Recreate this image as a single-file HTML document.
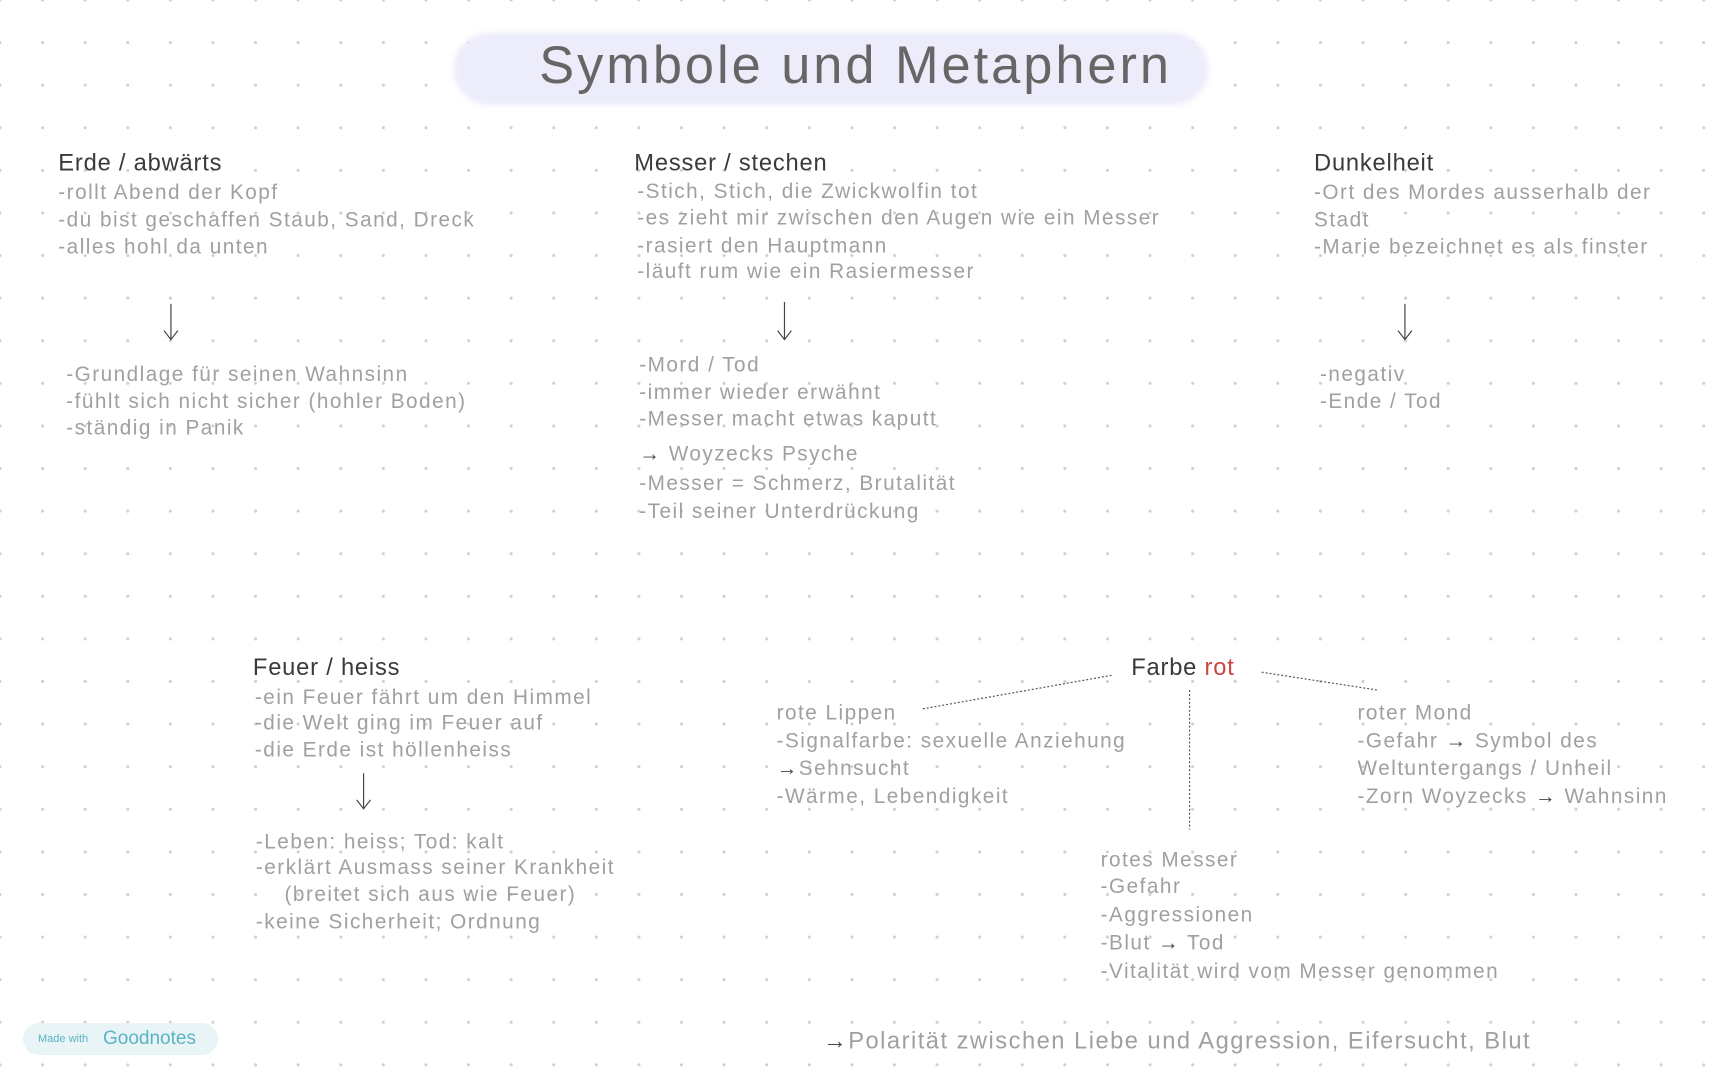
<!DOCTYPE html>
<html><head><meta charset="utf-8"><style>
html,body{margin:0;padding:0}
body{width:1728px;height:1080px;position:relative;overflow:hidden;background:#fff;
background-image:radial-gradient(circle,#cfcfcf 1.3px,transparent 1.8px);background-size:42.6px 42.6px;background-position:-21.3px -21.3px;
font-family:"Liberation Sans",sans-serif;}
#w{position:absolute;left:0;top:0;width:1728px;height:1080px;transform:scale(0.988,0.99);transform-origin:0 0}
.t{position:absolute;white-space:nowrap;font-size:21px;line-height:28px;color:#a0a0a0;letter-spacing:1.5px;font-weight:300}
.h{color:#3a3a3a;font-size:24px;letter-spacing:0.8px}
.k{color:#444}
</style></head><body><div id="w">
<div style="position:absolute;left:459px;top:33px;width:764px;height:73px;background:#ececfb;border-radius:40px;filter:blur(3px)"></div>
<div class="t" style="left:484px;width:764px;text-align:center;top:32px;line-height:70px;font-size:53px;color:#666;letter-spacing:3px">Symbole und Metaphern</div>

<div class="t h" style="left:59px;top:151px">Erde / abwärts</div>
<div class="t" style="left:59px;top:181px">-rollt Abend der Kopf</div>
<div class="t" style="left:59px;top:209px">-du bist geschaffen Staub, Sand, Dreck</div>
<div class="t" style="left:59px;top:236px">-alles hohl da unten</div>
<div class="t" style="left:67px;top:365px">-Grundlage für seinen Wahnsinn</div>
<div class="t" style="left:67px;top:392px">-fühlt sich nicht sicher (hohler Boden)</div>
<div class="t" style="left:67px;top:419px">-ständig in Panik</div>

<div class="t h" style="left:642px;top:151px">Messer / stechen</div>
<div class="t" style="left:645px;top:180px">-Stich, Stich, die Zwickwolfin tot</div>
<div class="t" style="left:645px;top:207px">-es zieht mir zwischen den Augen wie ein Messer</div>
<div class="t" style="left:645px;top:235px">-rasiert den Hauptmann</div>
<div class="t" style="left:645px;top:261px">-läuft rum wie ein Rasiermesser</div>
<div class="t" style="left:647px;top:355px">-Mord / Tod</div>
<div class="t" style="left:647px;top:383px">-immer wieder erwähnt</div>
<div class="t" style="left:647px;top:410px">-Messer macht etwas kaputt</div>
<div class="t" style="left:647px;top:445px"><span class="k">→</span> Woyzecks Psyche</div>
<div class="t" style="left:647px;top:475px">-Messer = Schmerz, Brutalität</div>
<div class="t" style="left:647px;top:503px">-Teil seiner Unterdrückung</div>

<div class="t h" style="left:1330px;top:151px">Dunkelheit</div>
<div class="t" style="left:1330px;top:181px">-Ort des Mordes ausserhalb der</div>
<div class="t" style="left:1330px;top:209px">Stadt</div>
<div class="t" style="left:1330px;top:236px">-Marie bezeichnet es als finster</div>
<div class="t" style="left:1336px;top:365px">-negativ</div>
<div class="t" style="left:1336px;top:392px">-Ende / Tod</div>

<div class="t h" style="left:256px;top:661px">Feuer / heiss</div>
<div class="t" style="left:258px;top:691px">-ein Feuer fährt um den Himmel</div>
<div class="t" style="left:258px;top:717px">-die Welt ging im Feuer auf</div>
<div class="t" style="left:258px;top:744px">-die Erde ist höllenheiss</div>
<div class="t" style="left:259px;top:837px">-Leben: heiss; Tod: kalt</div>
<div class="t" style="left:259px;top:863px">-erklärt Ausmass seiner Krankheit</div>
<div class="t" style="left:288px;top:890px">(breitet sich aus wie Feuer)</div>
<div class="t" style="left:259px;top:918px">-keine Sicherheit; Ordnung</div>

<div class="t h" style="left:1145px;top:661px">Farbe <span style="color:#c9453f">rot</span></div>
<div class="t" style="left:786px;top:707px">rote Lippen</div>
<div class="t" style="left:786px;top:735px">-Signalfarbe: sexuelle Anziehung</div>
<div class="t" style="left:786px;top:763px"><span class="k">→</span>Sehnsucht</div>
<div class="t" style="left:786px;top:791px">-Wärme, Lebendigkeit</div>
<div class="t" style="left:1374px;top:707px">roter Mond</div>
<div class="t" style="left:1374px;top:735px">-Gefahr <span class="k">→</span> Symbol des</div>
<div class="t" style="left:1374px;top:763px">Weltuntergangs / Unheil</div>
<div class="t" style="left:1374px;top:791px">-Zorn Woyzecks <span class="k">→</span> Wahnsinn</div>
<div class="t" style="left:1114px;top:855px">rotes Messer</div>
<div class="t" style="left:1114px;top:882px">-Gefahr</div>
<div class="t" style="left:1114px;top:911px">-Aggressionen</div>
<div class="t" style="left:1114px;top:939px">-Blut <span class="k">→</span> Tod</div>
<div class="t" style="left:1114px;top:968px">-Vitalität wird vom Messer genommen</div>
<div class="t" style="left:833px;top:1036px;font-size:24px;line-height:32px"><span class="k">→</span>Polarität zwischen Liebe und Aggression, Eifersucht, Blut</div>

<svg width="1728" height="1080" style="position:absolute;left:0;top:0" fill="none" stroke="#444" stroke-width="1.2">
<path d="M173 307V343M166 334L173 343L180 334"/>
<path d="M794 305V343M787 334L794 343L801 334"/>
<path d="M1422 307V343M1415 334L1422 343L1429 334"/>
<path d="M368 781V817M361 808L368 817L375 808"/>
<g stroke-dasharray="2 2" stroke="#555">
<path d="M934 716L1126 682"/>
<path d="M1277 679L1394 697"/>
<path d="M1204 697V838"/>
</g>
</svg>
</div>
<div style="position:absolute;left:23px;top:1023px;width:195px;height:32px;border-radius:16px;background:#e8f4f6"></div>
<div class="t" style="left:38px;top:1025px;line-height:28px;font-size:11px;color:#5bb4c4;letter-spacing:0">Made with</div>
<div class="t" style="left:103px;top:1023px;line-height:32px;font-size:19px;color:#5bb4c4;letter-spacing:0">Goodnotes</div>
</body></html>
